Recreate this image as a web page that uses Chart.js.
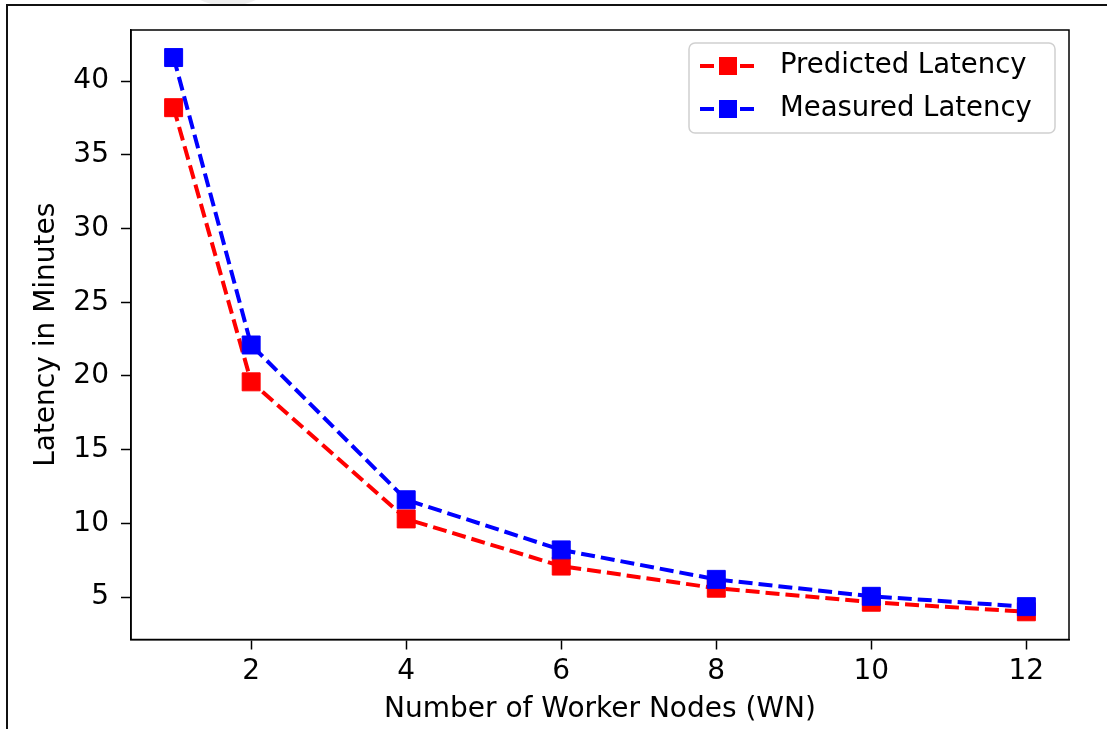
<!DOCTYPE html>
<html>
<head>
<meta charset="utf-8">
<script src="https://cdn.jsdelivr.net/npm/chart.js@4/dist/chart.umd.min.js"></script>
<style>
  html, body { margin: 0; padding: 0; background: #fff; }
  #wrap { width: 1107px; height: 729px; position: relative; }
</style>
</head>
<body>
<div id="wrap"><canvas id="latencyChart"></canvas></div>
<script>
const workerNodes = [1, 2, 4, 6, 8, 10, 12];
const predictedLatency = [38.2, 19.6, 10.3, 7.1, 5.6, 4.65, 4.0];
const measuredLatency = [41.6, 22.1, 11.6, 8.2, 6.2, 5.05, 4.35];
const xTicks = [2, 4, 6, 8, 10, 12];
const yTicks = [5, 10, 15, 20, 25, 30, 35, 40];

const FONT = 'DejaVu Sans';
Chart.defaults.font.family = FONT;
Chart.defaults.color = '#000';

const toPoints = ys => workerNodes.map((x, i) => ({ x: x, y: ys[i] }));

// outer frame of the screenshot + a faint watermark blob at the top
const framePlugin = {
    id: 'frame',
    beforeDraw(chart) {
        const c = chart.ctx;
        c.save();
        c.fillStyle = '#fff';
        c.fillRect(0, 0, chart.width, chart.height);
        c.fillStyle = '#eeeeee';
        c.beginPath();
        c.ellipse(228, -18, 42, 24, 0, 0, Math.PI * 2);
        c.fill();
        c.strokeStyle = '#111';
        c.lineWidth = 2;
        c.strokeRect(7, 5, 1300, 900);
        c.restore();
    },
    afterDatasetsDraw(chart) {
        // top and right spines
        const a = chart.chartArea;
        const c = chart.ctx;
        c.save();
        c.strokeStyle = '#000';
        c.lineWidth = 1.5;
        c.strokeRect(a.left, a.top, a.right - a.left, a.bottom - a.top);
        c.restore();
    }
};

// matplotlib-like legend: dashed line with square marker
const legendPlugin = {
    id: 'mplLegend',
    afterDraw(chart) {
        const c = chart.ctx;
        const box = { x: 689, y: 43, w: 366, h: 90 };
        c.save();
        c.beginPath();
        c.roundRect(box.x, box.y, box.w, box.h, 6);
        c.fillStyle = 'rgba(255,255,255,0.8)';
        c.fill();
        c.strokeStyle = '#d0d0d0';
        c.lineWidth = 1.5;
        c.stroke();
        chart.data.datasets.forEach((ds, i) => {
            const y = 66 + i * 43;
            c.strokeStyle = ds.borderColor;
            c.lineWidth = 4;
            c.setLineDash([14, 6]);
            c.beginPath();
            c.moveTo(700, y);
            c.lineTo(756, y);
            c.stroke();
            c.setLineDash([]);
            c.fillStyle = ds.pointBackgroundColor;
            c.fillRect(728 - 9, y - 9, 18, 18);
            c.fillStyle = '#000';
            c.font = '27.5px "' + FONT + '"';
            c.textBaseline = 'middle';
            c.textAlign = 'left';
            c.fillText(ds.label, 780, y);
        });
        c.restore();
    }
};

new Chart(document.getElementById('latencyChart'), {
    type: 'line',
    data: {
        datasets: [{
            label: 'Predicted Latency',
            data: toPoints(predictedLatency),
            borderColor: '#ff0000',
            pointBackgroundColor: '#ff0000',
            pointBorderColor: '#ff0000',
            borderWidth: 4,
            borderDash: [14, 6],
            pointStyle: 'rect',
            pointRadius: 12.7,
            pointBorderWidth: 1,
            order: 1
        }, {
            label: 'Measured Latency',
            data: toPoints(measuredLatency),
            borderColor: '#0000ff',
            pointBackgroundColor: '#0000ff',
            pointBorderColor: '#0000ff',
            borderWidth: 4,
            borderDash: [14, 6],
            pointStyle: 'rect',
            pointRadius: 12.7,
            pointBorderWidth: 1,
            order: 0
        }]
    },
    options: {
        responsive: true,
        maintainAspectRatio: false,
        animation: false,
        layout: { padding: { left: 0, top: 30, right: 38, bottom: 0 } },
        plugins: {
            legend: { display: false },
            tooltip: { enabled: false }
        },
        scales: {
            x: {
                type: 'linear',
                min: 0.45,
                max: 12.55,
                afterBuildTicks: s => { s.ticks = xTicks.map(v => ({ value: v })); },
                afterFit: s => { s.height = 89.5; },
                grid: { drawOnChartArea: false, drawTicks: true, tickLength: 10, tickWidth: 1.5, tickColor: '#000' },
                border: { display: true, color: '#000', width: 1.5 },
                ticks: { font: { size: 28 }, color: '#000', padding: 5, maxRotation: 0 },
                title: { display: true, text: 'Number of Worker Nodes (WN)', font: { size: 28 }, color: '#000', padding: { bottom: 2 } }
            },
            y: {
                type: 'linear',
                min: 2.12,
                max: 43.47,
                afterBuildTicks: s => { s.ticks = yTicks.map(v => ({ value: v })); },
                afterFit: s => { s.width = 131; },
                grid: { drawOnChartArea: false, drawTicks: true, tickLength: 10, tickWidth: 1.5, tickColor: '#000' },
                border: { display: true, color: '#000', width: 1.5 },
                ticks: { font: { size: 28 }, color: '#000', padding: 12 },
                title: { display: true, text: 'Latency in Minutes', font: { size: 28 }, color: '#000', padding: { top: 30 } }
            }
        }
    },
    plugins: [framePlugin, legendPlugin]
});
</script>
</body>
</html>
